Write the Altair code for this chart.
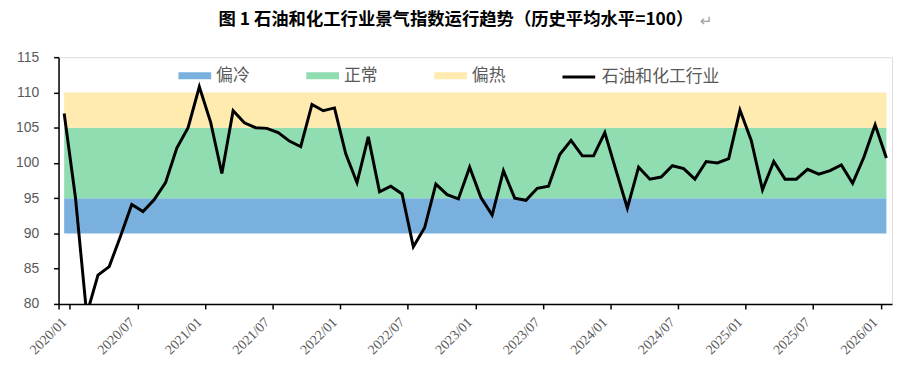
import altair as alt
import pandas as pd

months = [f"{y}/{m:02d}" for y in range(2020, 2027) for m in range(1, 13)][:74]
values = [
    107.0, 95.1, 78.5, 84.1, 85.3, 89.6, 94.1, 93.1, 94.8, 97.2, 102.1, 105.0,
    110.8, 105.8, 98.5, 107.4, 105.7, 105.0, 104.9, 104.3, 103.1, 102.3, 108.3, 107.4,
    107.8, 101.3, 97.2, 103.7, 95.9, 96.7, 95.6, 88.1, 90.8, 97.0, 95.5, 94.9,
    99.4, 95.1, 92.6, 98.9, 95.0, 94.7, 96.4, 96.7, 101.2, 103.2, 101.0, 101.0,
    104.3, 98.9, 93.6, 99.4, 97.7, 98.0, 99.6, 99.2, 97.7, 100.2, 100.0, 100.6,
    107.5, 103.2, 96.2, 100.2, 97.7, 97.7, 99.1, 98.4, 98.9, 99.7, 97.1, 100.8,
    105.4, 100.7,
]
band_names = ["偏冷", "正常", "偏热"]
band_low = [90, 95, 105]
band_high = [95, 105, 110]
band_colors = ["#7AB0DE", "#8FDDB1", "#FFEAAF"]
series_name = "石油和化工行业"
tick_months = months[::6]
y_ticks = [80, 85, 90, 95, 100, 105, 110, 115]
title_text = "图 1 石油和化工行业景气指数运行趋势（历史平均水平=100）"
para_mark = "↵"

line_df = pd.DataFrame({"month": months, "value": values, "series": series_name})
band_df = pd.DataFrame(
    [{"month": m, "band": n, "low": lo, "high": hi}
     for n, lo, hi in zip(band_names, band_low, band_high) for m in months]
)

x_enc = alt.X(
    "month:O", sort=months,
    scale=alt.Scale(type="band", paddingInner=0, paddingOuter=0),
    axis=alt.Axis(
        values=tick_months, title=None, labelAngle=-45, labelAlign="right",
        labelBaseline="middle", tickBand="extent", labelFont="Liberation Serif",
        labelFontSize=14, labelColor="#595959", labelPadding=11, tickSize=5,
        tickColor="black", domainColor="black", domainWidth=1.5, tickWidth=1.5,
        labelOverlap=False, grid=False,
    ),
)
y_scale = alt.Scale(domain=[80, 115], nice=False, zero=False)
y_axis = alt.Axis(
    values=y_ticks, title=None, grid=False, labelFont="Liberation Sans",
    labelFontSize=14, labelColor="#595959", labelPadding=15, tickSize=5,
    tickColor="black", domainColor="black", domainWidth=1.5, tickWidth=1.5,
)

bands = alt.Chart(band_df).mark_area(opacity=1).encode(
    x=x_enc,
    y=alt.Y("low:Q", scale=y_scale, axis=y_axis, stack=None),
    y2="high:Q",
    fill=alt.Fill(
        "band:N", scale=alt.Scale(domain=band_names, range=band_colors),
        legend=alt.Legend(
            orient="none", legendX=121, legendY=2, direction="horizontal", title=None,
            symbolType="M-1,-0.22H1V0.22H-1Z", symbolSize=1089, symbolStrokeWidth=0,
            labelFont="Noto Sans CJK SC", labelFontSize=17, labelColor="#595959",
            labelOffset=5, columnPadding=57, padding=0,
        ),
    ),
)

line = alt.Chart(line_df).mark_line(strokeWidth=3, clip=True).encode(
    x=x_enc,
    y=alt.Y("value:Q", scale=y_scale, axis=y_axis),
    stroke=alt.Stroke(
        "series:N", scale=alt.Scale(domain=[series_name], range=["#000000"]),
        legend=alt.Legend(
            orient="none", legendX=507, legendY=2, direction="horizontal", title=None,
            symbolType="stroke", symbolSize=1089, symbolStrokeWidth=3,
            labelFont="Noto Sans CJK SC", labelFontSize=17, labelColor="#595959",
            labelOffset=5, padding=0,
        ),
    ),
)

title = alt.Chart(pd.DataFrame({"t": [title_text]})).mark_text(
    fontSize=17.5, fontWeight="bold", color="#000000", align="center",
    baseline="middle", font="Noto Sans CJK SC"
).encode(text="t:N", x=alt.value(401), y=alt.value(-37))

mark = alt.Chart(pd.DataFrame({"t": [para_mark]})).mark_text(
    fontSize=15, color="#A0A0A0", align="left", baseline="middle", font="DejaVu Sans"
).encode(text="t:N", x=alt.value(647), y=alt.value(-36))

chart = alt.layer(bands, line, title, mark).properties(
    width=841, height=249,
    padding={"left": 51, "top": 48, "right": 3, "bottom": 60},
    autosize=alt.AutoSizeParams(type="none"),
).configure_view(stroke=None).configure(background="white")

chart.save("out.html", embed_options={"renderer": "svg", "actions": False})
